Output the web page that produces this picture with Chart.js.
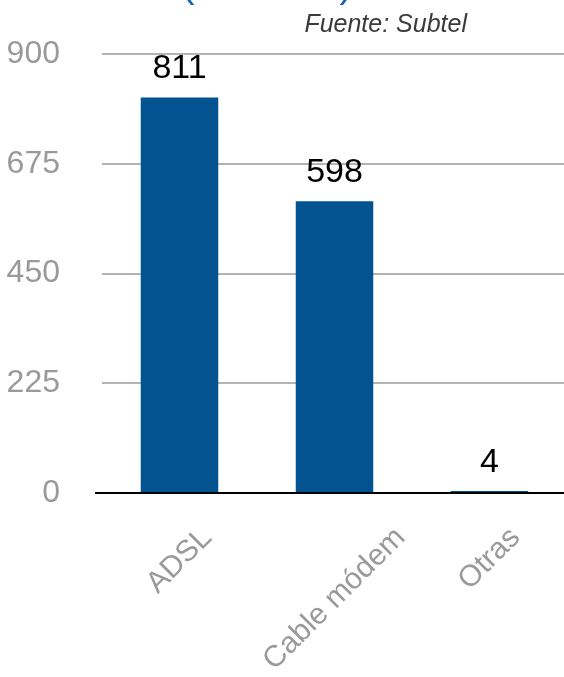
<!DOCTYPE html>
<html>
<head>
<meta charset="utf-8">
<script src="https://cdn.jsdelivr.net/npm/chart.js@4/dist/chart.umd.min.js"></script>
<style>
  html, body { margin: 0; padding: 0; background: #ffffff; overflow: hidden; }
  #wrap { position: relative; width: 567px; height: 677px; }
</style>
</head>
<body>
<div id="wrap"><canvas id="c"></canvas></div>
<script>
const categories = ["ADSL", "Cable módem", "Otras"];
const conexiones = [811, 598, 4];
const yTicks = [0, 225, 450, 675, 900];
const titleText = "(en miles)";
const sourceText = "Fuente: Subtel";

const FONT = "'Liberation Sans', Arial, Helvetica, sans-serif";

const overlay = {
  id: 'overlay',
  afterDatasetsDraw(chart) {
    const ctx = chart.ctx;
    const x = chart.scales.x, y = chart.scales.y;
    ctx.save();
    // baseline
    const y0 = y.getPixelForValue(0);
    ctx.strokeStyle = '#000000';
    ctx.lineWidth = 2;
    ctx.beginPath();
    ctx.moveTo(95, y0);
    ctx.lineTo(chart.width, y0);
    ctx.stroke();
    // value labels
    ctx.fillStyle = '#000000';
    ctx.font = "34px " + FONT;
    ctx.textAlign = 'center';
    ctx.textBaseline = 'alphabetic';
    const meta = chart.getDatasetMeta(0);
    meta.data.forEach((bar, i) => {
      ctx.fillText(String(conexiones[i]), bar.x, bar.y - 19);
    });
    // x labels, rotated -45deg, centred on tick, top end aligned
    ctx.fillStyle = '#9a9a9a';
    ctx.font = "30px " + FONT;
    ctx.textAlign = 'center';
    ctx.textBaseline = 'middle';
    const yTop = 533;
    categories.forEach((lab, i) => {
      const w = ctx.measureText(lab).width;
      const cx = x.getPixelForValue(i);
      const cy = yTop + (w / 2) * Math.SQRT1_2;
      ctx.save();
      ctx.translate(cx, cy);
      ctx.rotate(-Math.PI / 4);
      ctx.fillText(lab, 0, 0);
      ctx.restore();
    });
    // source
    ctx.fillStyle = '#3a3a3a';
    ctx.font = "italic 25px " + FONT;
    ctx.textAlign = 'right';
    ctx.textBaseline = 'alphabetic';
    ctx.fillText(sourceText, 467, 32);
    // title (mostly cut off at top)
    ctx.fillStyle = '#1663ad';
    ctx.font = "39px " + FONT;
    ctx.textAlign = 'center';
    ctx.fillText(titleText, 267, -3);
    ctx.restore();
  }
};

new Chart(document.getElementById('c'), {
  type: 'bar',
  data: {
    labels: categories,
    datasets: [{
      data: conexiones,
      backgroundColor: '#02538f',
      borderWidth: 0,
      categoryPercentage: 1,
      barPercentage: 0.5
    }]
  },
  options: {
    responsive: true,
    maintainAspectRatio: false,
    animation: false,
    events: [],
    layout: { padding: { top: 54, left: 0, right: 0, bottom: 0 } },
    plugins: { legend: { display: false }, tooltip: { enabled: false }, title: { display: false } },
    scales: {
      x: {
        grid: { display: false, drawTicks: false },
        border: { display: false },
        ticks: { display: false },
        afterFit(scale) { scale.height = 184; scale.paddingLeft = 0; scale.paddingRight = 0; }
      },
      y: {
        min: 0, max: 900,
        afterBuildTicks(scale) { scale.ticks = yTicks.map(v => ({ value: v })); },
        grid: {
          color: '#b3b3b3',
          lineWidth: 2,
          drawTicks: false
        },
        border: { display: false },
        ticks: {
          color: '#9a9a9a',
          padding: 42,
          font: { size: 32, family: FONT }
        },
        afterFit(scale) { scale.width = 102; scale.paddingTop = 0; scale.paddingBottom = 0; }
      }
    }
  },
  plugins: [overlay]
});
</script>
</body>
</html>
